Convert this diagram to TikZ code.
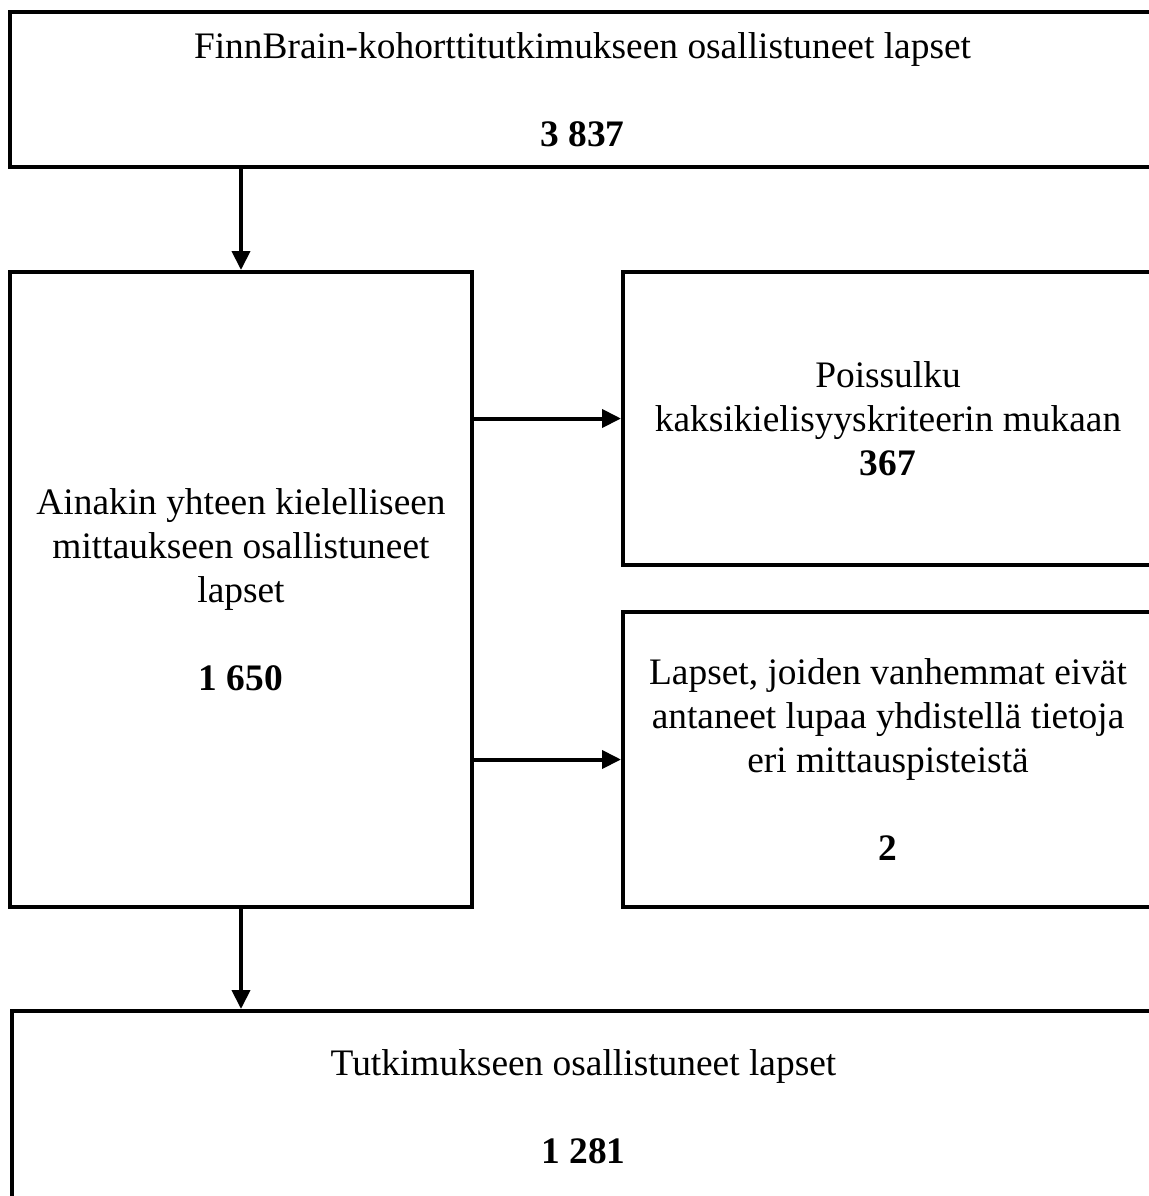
\documentclass[tikz,border=0pt]{standalone}
\usepackage{fontspec}
\setmainfont{Liberation Serif}
\usetikzlibrary{arrows.meta}
\begin{document}
\begin{tikzpicture}[x=0.5pt,y=-0.5pt,
  box/.style={draw=black, line width=2pt, inner sep=0pt, align=center,
    font=\fontsize{18.7pt}{22pt}\selectfont},
  arr/.style={line width=2pt, -{Triangle[length=9.5pt,width=9pt]}}]
\useasboundingbox (0,0) rectangle (1149,1196);
\clip (0,0) rectangle (1149,1196);
\node[box, minimum width=1145*0.5pt, minimum height=155*0.5pt] (top) at (582.5,89.5)
  {FinnBrain-kohorttitutkimukseen osallistuneet lapset\\[22pt]\textbf{3 837}};
\node[box, minimum width=462*0.5pt, minimum height=635*0.5pt] (mid) at (241,589.5)
  {Ainakin yhteen kielelliseen\\mittaukseen osallistuneet\\lapset\\[22pt]\textbf{1 650}};
\node[box, minimum width=530*0.5pt, minimum height=293*0.5pt] (ex1) at (888,418.5)
  {Poissulku\\kaksikielisyyskriteerin mukaan\\\textbf{367}};
\node[box, minimum width=530*0.5pt, minimum height=295*0.5pt] (ex2) at (888,759.5)
  {Lapset, joiden vanhemmat eivät\\antaneet lupaa yhdistellä tietoja\\eri mittauspisteistä\\[22pt]\textbf{2}};
\node[box, minimum width=1143*0.5pt, minimum height=192*0.5pt] (fin) at (583.5,1107)
  {Tutkimukseen osallistuneet lapset\\[22pt]\textbf{1 281}};
\draw[arr] (mid.north |- top.south) -- (mid.north);
\draw[arr] (mid.east |- ex1.center) -- (ex1.west);
\draw[arr] (mid.east |- ex2.center) -- (ex2.west);
\draw[arr] (mid.south) -- (mid.south |- fin.north);
\end{tikzpicture}
\end{document}
